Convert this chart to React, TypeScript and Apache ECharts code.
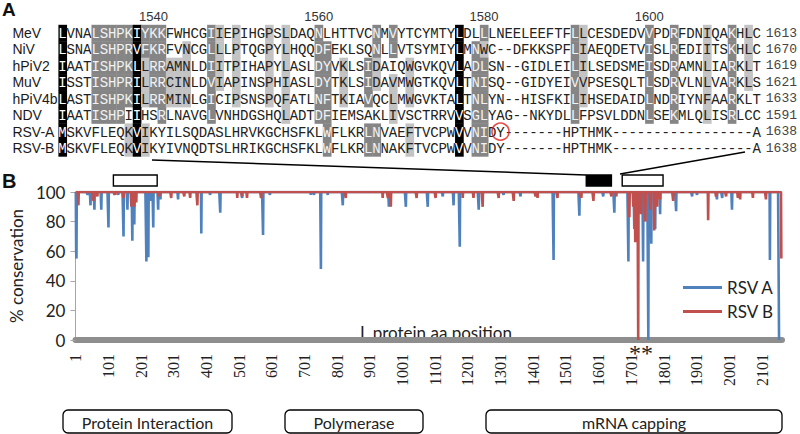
import React, { useEffect, useRef } from "react";
import * as echarts from "echarts";

// ---------- Panel A: alignment ----------
const rowNames = ["MeV", "NiV", "hPiV2", "MuV", "hPiV4b", "NDV", "RSV-A", "RSV-B"];
const rowEnds = ["1613", "1670", "1619", "1621", "1633", "1591", "1638", "1638"];
const sequences = [
  "LVNALSHPKIYKKFWHCGIIEPIHGPSLDAQNLHTTVCNMVYTCYMTYLDLLLNEELEEFTFLLCESDEDVVPDRFDNIQAKHLC",
  "LSNALSHPRVFKRFVNCGLLLPTQGPYLHQQDFEKLSQNLLVTSYMIYLMNWC--DFKKSPFLIAEQDETVISLREDIITSKHLC",
  "IAATISHPKLLRRAMNLDIITPIHAPYLASLDYVKLSIDAIQWGVKQVLADLSN--GIDLEILILSEDSMEISDRAMNLIARKLT",
  "ISSTISHPRILRRCINLDVIAPINSPHIASLDYTKLSIDAVMWGTKQVLTNISQ--GIDYEIVVPSESQLTLSDRVLNLVARKLS",
  "LASTISHPKILRRMINLGICIPSNSPQFATLNFTKIAVQCLMWGVKTALTNLYN--HISFKILIHSEDAIDLNDRIYNFAARKLT",
  "IAATISHPIIHSRLNAVGLVNHDGSHQLADTDFIEMSAKLIVSCTRRVVSGLYAG--NKYDLLFPSVLDDNLSEKMLQLISRLCC",
  "MSKVFLEQKVIKYILSQDASLHRVKGCHSFKLWFLKRLNVAEFTVCPWVVNIDY-------HPTHMK-----------------A",
  "MSKVFLEQKVIKYIVNQDTSLHRIKGCHSFKLWFLKRLNNAKFTVCPWVVNIDY-------HPTHMK-----------------A",
];
const rulerStart = 1529;
const rulerTicks = ["1540", "1560", "1580", "1600"];
// [column, shade level per row (0 none, 1 light grey, 2 dark grey, 3 black)]
const shadeCols: [number, string][] = [
  [0, "33333333"], [4, "22222200"], [5, "22222200"], [6, "22222200"], [7, "22222200"],
  [8, "22222011"], [9, "33333333"], [10, "22111011"], [11, "22222000"], [12, "22222200"],
  [13, "00111000"], [14, "00111000"], [15, "01111000"], [18, "22222200"], [19, "11110000"],
  [21, "11111000"], [25, "11111000"], [27, "11111100"], [31, "22222200"], [32, "02222222"],
  [34, "00111000"], [37, "00222022"], [38, "22110022"], [40, "22011100"], [42, "00111011"],
  [48, "33333333"], [50, "02222222"], [51, "21222222"], [62, "22222200"], [63, "11111000"],
  [71, "22222200"], [74, "22222200"], [78, "11111100"], [81, "22222200"], [83, "11110000"],
];
const circledCells: [number, number][] = [[53, 6]];

// ---------- Panel B: conservation ----------
const positionTicks = [1, 101, 201, 301, 401, 501, 601, 701, 801, 901, 1001, 1101, 1201, 1301, 1401, 1501, 1601, 1701, 1801, 1901, 2001, 2101];
const lastPosA = 2153;
const lastPosB = 2160;
// dips below 100 % (position, % conservation)
const rsvADips: [number, number][] = [
  [2, 60], [3, 55], [37, 98], [46, 91], [58, 88], [79, 88], [101, 76], [119, 98], [131, 98],
  [147, 70], [159, 88], [174, 67], [180, 78], [217, 53], [223, 56], [232, 94], [238, 76],
  [253, 88], [260, 95], [314, 95], [385, 72], [412, 98], [443, 86], [510, 96], [574, 71],
  [595, 98], [720, 98], [730, 98], [751, 48], [772, 98], [818, 91], [959, 90], [1011, 90],
  [1078, 90], [1124, 97], [1157, 91], [1176, 63], [1234, 88], [1310, 98], [1362, 97],
  [1408, 98], [1463, 54], [1542, 84], [1615, 97], [1649, 86], [1692, 53], [1710, 75],
  [1737, 53], [1753, 0], [1762, 65], [1774, 75], [1789, 85], [1838, 87], [1887, 97],
  [1902, 98], [1963, 95], [1979, 96], [2009, 88], [2125, 54], [2153, 0],
];
const rsvBDips: [number, number][] = [
  [9, 91], [55, 94], [67, 97], [122, 98], [147, 96], [171, 90], [180, 90], [186, 93],
  [256, 97], [293, 96], [333, 97], [351, 96], [373, 91], [495, 96], [510, 97], [525, 96],
  [568, 96], [827, 96], [940, 96], [956, 96], [965, 90], [1044, 96], [1102, 96], [1185, 96],
  [1218, 96], [1246, 90], [1295, 96], [1341, 94], [1408, 97], [1414, 96], [1475, 96],
  [1545, 97], [1548, 96], [1585, 94], [1640, 97], [1655, 97], [1695, 83], [1707, 90],
  [1713, 66], [1722, 0], [1731, 85], [1744, 80], [1759, 88], [1771, 74], [1780, 90],
  [1789, 95], [1829, 94], [1936, 81], [1960, 97], [1991, 97], [2027, 96], [2034, 95],
  [2073, 96], [2113, 95], [2160, 55],
];
// regions marked above the plot [start, end, filled]
const regionBoxes: [number, number, number][] = [[116, 250, 0], [1563, 1640, 1], [1673, 1798, 0]];
const domainNames = ["Protein Interaction", "Polymerase", "mRNA capping"];

const shadeFill = ["none", "#c3c3c3", "#858585", "#000000"];
const shadeText = ["#222222", "#222222", "#f2f2f2", "#ffffff"];

function buildLine(dips: [number, number][], last: number) {
  const m = new Map<number, number>(dips);
  const out: [number, number][] = [];
  for (let p = 1; p <= last; p++) out.push([p, m.has(p) ? (m.get(p) as number) : 100]);
  return out;
}

function buildCells() {
  const shade: number[][] = sequences.map((s) => Array.from(s).map(() => 0));
  shadeCols.forEach(([c, levels]) => {
    for (let r = 0; r < levels.length; r++) shade[r][c] = Number(levels[r]);
  });
  const cells: number[][] = [];
  sequences.forEach((s, r) => {
    for (let c = 0; c < s.length; c++) cells.push([c, r, shade[r][c]]);
  });
  return cells;
}

export default function App() {
  const ref = useRef<HTMLDivElement>(null);
  useEffect(() => {
    const chart = echarts.init(ref.current as HTMLDivElement, null, { renderer: "svg" });
    const cols = sequences[0].length;
    const colW = 8.27;
    const gridALeft = 58.4;
    const cells = buildCells();

    const option: any = {
      animation: false,
      backgroundColor: "#ffffff",
      grid: [
        { left: gridALeft, top: 24.8, width: cols * colW, height: 131.5 },
        { left: 74, top: 192, width: 708, height: 148 },
      ],
      xAxis: [
        {
          gridIndex: 0,
          type: "category",
          position: "top",
          data: Array.from({ length: cols }, (_, i) => String(rulerStart + i)),
          axisLine: { show: false },
          axisTick: { show: false },
          axisLabel: {
            interval: (_i: number, v: string) => rulerTicks.includes(v),
            margin: 2,
            fontFamily: "Liberation Sans",
            fontSize: 13,
            color: "#333",
          },
        },
        {
          gridIndex: 1,
          type: "value",
          min: 0,
          max: 2162,
          offset: 2,
          splitLine: { show: false },
          axisTick: { show: false },
          axisLine: { show: true, lineStyle: { color: "#8e8e8e", width: 6 } },
          axisLabel: {
            customValues: positionTicks,
            formatter: (v: number) => String(v),
            hideOverlap: false,
            showMinLabel: true,
            showMaxLabel: true,
            rotate: 90,
            margin: 12,
            fontFamily: "Liberation Serif",
            fontSize: 16,
            color: "#222",
          },
        },
      ],
      yAxis: [
        {
          gridIndex: 0,
          type: "category",
          inverse: true,
          data: rowNames,
          axisLine: { show: false },
          axisTick: { show: false },
          axisLabel: { interval: 0, align: "left", margin: 46, fontFamily: "Liberation Sans", fontSize: 14, color: "#1a1a1a" },
        },
        {
          gridIndex: 0,
          type: "category",
          inverse: true,
          position: "right",
          data: rowEnds,
          axisLine: { show: false },
          axisTick: { show: false },
          axisLabel: { interval: 0, align: "left", margin: 5, fontFamily: "Liberation Mono", fontSize: 13, color: "#444" },
        },
        {
          gridIndex: 1,
          type: "value",
          min: 0,
          max: 100,
          interval: 20,
          splitLine: { show: false },
          axisLine: { show: true, lineStyle: { color: "#a6a6a6", width: 1 } },
          axisTick: { show: true, length: 5, lineStyle: { color: "#a6a6a6" } },
          axisLabel: { margin: 10, fontFamily: "Lato", fontSize: 17, color: "#222" },
          name: "% conservation",
          nameLocation: "middle",
          nameGap: 49,
          nameRotate: 90,
          nameTextStyle: { fontFamily: "Lato", fontSize: 17, color: "#222" },
        },
      ],
      legend: {
        orient: "vertical",
        left: 678,
        top: 274,
        icon: "rect",
        itemWidth: 39,
        itemHeight: 3,
        itemGap: 7,
        data: ["RSV A", "RSV B"],
        textStyle: { fontFamily: "Lato", fontSize: 17, color: "#222" },
      },
      series: [
        {
          type: "custom",
          xAxisIndex: 0,
          yAxisIndex: 0,
          data: cells,
          encode: { x: 0, y: 1 },
          renderItem: (_p: any, api: any) => {
            const c = api.value(0);
            const r = api.value(1);
            const s = api.value(2);
            const pt = api.coord([c, r]);
            const sz = api.size([1, 1]);
            const children: any[] = [];
            if (s > 0) {
              children.push({
                type: "rect",
                shape: { x: pt[0] - sz[0] / 2, y: pt[1] - sz[1] / 2, width: sz[0] + 0.4, height: sz[1] + 0.4 },
                style: { fill: shadeFill[s] },
              });
            }
            children.push({
              type: "text",
              x: pt[0],
              y: pt[1] + 1,
              style: {
                text: sequences[r][c],
                align: "center",
                verticalAlign: "middle",
                fontFamily: "Liberation Mono",
                fontSize: 14,
                fill: shadeText[s],
              },
            });
            return { type: "group", children };
          },
        },
        {
          type: "scatter",
          xAxisIndex: 0,
          yAxisIndex: 0,
          data: circledCells,
          symbol: "circle",
          symbolSize: 17,
          itemStyle: { color: "rgba(0,0,0,0)", borderColor: "#e0201c", borderWidth: 1.6 },
          z: 5,
        },
        {
          name: "RSV A",
          type: "line",
          xAxisIndex: 1,
          yAxisIndex: 2,
          data: buildLine(rsvADips, lastPosA),
          symbol: "none",
          showSymbol: false,
          lineStyle: { color: "#4f81bd", width: 2.6 },
          itemStyle: { color: "#4f81bd" },
        },
        {
          name: "RSV B",
          type: "line",
          xAxisIndex: 1,
          yAxisIndex: 2,
          data: buildLine(rsvBDips, lastPosB),
          symbol: "none",
          showSymbol: false,
          lineStyle: { color: "#c0504d", width: 2.6 },
          itemStyle: { color: "#c0504d" },
        },
        {
          type: "custom",
          xAxisIndex: 1,
          yAxisIndex: 2,
          data: regionBoxes,
          encode: { x: [0, 1], y: 2 },
          clip: false,
          renderItem: (_p: any, api: any) => {
            const a = api.coord([api.value(0), 100]);
            const b = api.coord([api.value(1), 100]);
            return {
              type: "rect",
              shape: { x: a[0], y: a[1] - 17, width: b[0] - a[0], height: 11 },
              style: { fill: api.value(2) ? "#000" : "#fff", stroke: "#000", lineWidth: 1.4 },
            };
          },
        },
      ],
      graphic: [
        { type: "text", left: 2, top: 0, style: { text: "A", font: "bold 19px 'Liberation Sans'", fill: "#111" } },
        { type: "text", left: 2, top: 171, style: { text: "B", font: "bold 20px 'Liberation Sans'", fill: "#111" } },
        { type: "line", shape: { x1: 152, y1: 160, x2: 586, y2: 175 }, style: { stroke: "#000", lineWidth: 1.5 } },
        { type: "line", shape: { x1: 745, y1: 152, x2: 620, y2: 174 }, style: { stroke: "#000", lineWidth: 1.5 } },
        {
          type: "text",
          x: 436,
          y: 332,
          style: { text: "L protein aa position", font: "17px Lato", fill: "#222", align: "center", verticalAlign: "middle" },
        },
        {
          type: "text",
          x: 641,
          y: 353,
          style: { text: "**", font: "24px 'Liberation Serif'", fill: "#222", align: "center", verticalAlign: "middle" },
        },
        ...[
          [63, 232],
          [285, 423],
          [486, 782],
        ].map(([x1, x2], i) => ({
          type: "group",
          children: [
            {
              type: "rect",
              shape: { x: x1, y: 410, width: x2 - x1, height: 23, r: 5 },
              style: { fill: "#fff", stroke: "#000", lineWidth: 1.3 },
            },
            {
              type: "text",
              x: (x1 + x2) / 2,
              y: 422,
              style: { text: domainNames[i], font: "16px Lato", fill: "#222", align: "center", verticalAlign: "middle" },
            },
          ],
        })),
      ],
    };
    chart.setOption(option);
    return () => chart.dispose();
  }, []);
  return <div ref={ref} style={{ position: "fixed", left: 0, top: 0, width: 800, height: 434 }} />;
}
